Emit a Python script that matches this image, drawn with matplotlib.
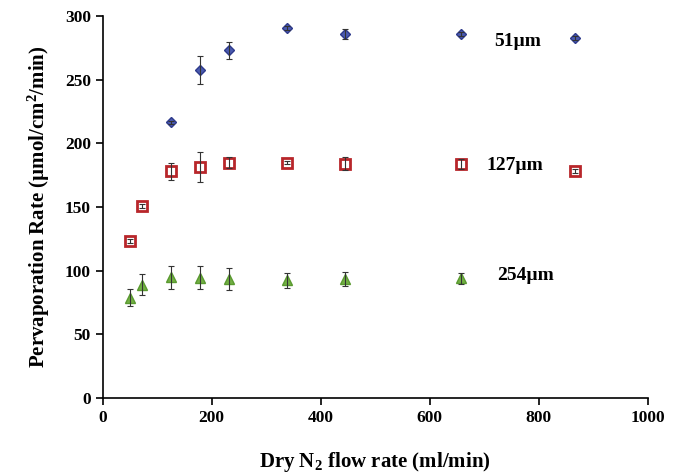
import matplotlib.pyplot as plt

plt.rcParams['font.family'] = ['Liberation Serif', 'DejaVu Serif']
plt.rcParams['font.weight'] = 'bold'
plt.rcParams['mathtext.fontset'] = 'custom'
plt.rcParams['mathtext.rm'] = 'Liberation Serif:bold'
plt.rcParams['mathtext.bf'] = 'Liberation Serif:bold'
plt.rcParams['mathtext.it'] = 'Liberation Serif:bold'

# 51 um film
x51 = [126, 179, 232, 338, 445, 657, 867]
y51 = [216.5, 258, 273, 290.7, 286, 285.7, 282.8]
e51 = [1.5, 11, 7, 1.5, 4, 1.5, 1.5]

# 127 um film
x127 = [50, 72, 126, 179, 232, 338, 445, 657, 867]
y127 = [123.2, 151, 178, 181.6, 185, 185, 184, 183.7, 178.4]
e127 = [1.5, 1.5, 7, 12, 4.5, 1.5, 5, 4, 1.5]

# 254 um film
x254 = [50, 72, 126, 179, 232, 338, 445, 657]
y254 = [78.7, 89.2, 95, 94.5, 93.4, 92.4, 93.2, 94]
e254 = [6.7, 8, 9, 9, 8.5, 6, 5.5, 4]

labels = ['51µm', '127µm', '254µm']
label_x = [762, 756, 775]
label_y = [279.7, 183, 96.5]

fig = plt.figure(figsize=(6.8, 4.74), dpi=100)
ax = fig.add_axes([0.151, 0.160, 0.8015, 0.806])

# markers first, then error bars drawn over them (as in the original)
ax.plot(x51, y51, ls='none', marker='D', ms=5.5, mfc='#4a5ab0', mec='#2e3a8c', mew=1.0, zorder=2)
ax.plot(x127, y127, ls='none', marker='s', ms=7, mfc='white', mec='#b8262a', mew=2.0, zorder=2)
ax.plot(x254, y254, ls='none', marker='^', ms=7.5, mfc='#72b043', mec='#5a9a30', mew=1.0, zorder=2)

ebkw = dict(ls='none', ecolor='#333333', elinewidth=0.8, capsize=2.5, capthick=0.8, zorder=3)
ax.errorbar(x51, y51, yerr=e51, **ebkw)
ax.errorbar(x127, y127, yerr=e127, **ebkw)
ax.errorbar(x254, y254, yerr=e254, **ebkw)

for t, lx, ly in zip(labels, label_x, label_y):
    ax.text(lx, ly, t, fontsize=14, fontweight='bold', ha='center', va='center')

ax.set_xlim(0, 1000)
ax.set_ylim(0, 300)
ax.set_xticks(range(0, 1001, 200))
ax.set_yticks(range(0, 301, 50))
ax.spines['top'].set_visible(False)
ax.spines['right'].set_visible(False)
for s in ['left', 'bottom']:
    ax.spines[s].set_linewidth(1.2)
ax.tick_params(direction='out', length=5, width=1.2, labelsize=12.5)
for lab in ax.get_xticklabels() + ax.get_yticklabels():
    lab.set_fontweight('bold')

ax.set_xlabel('Dry N$_{2}$ flow rate (ml/min)', fontsize=15, fontweight='bold',
              labelpad=17)
ax.set_ylabel('Pervaporation Rate (µmol/cm$^{2}$/min)', fontsize=15,
              fontweight='bold', labelpad=9)

plt.savefig('out.png', dpi=100)
